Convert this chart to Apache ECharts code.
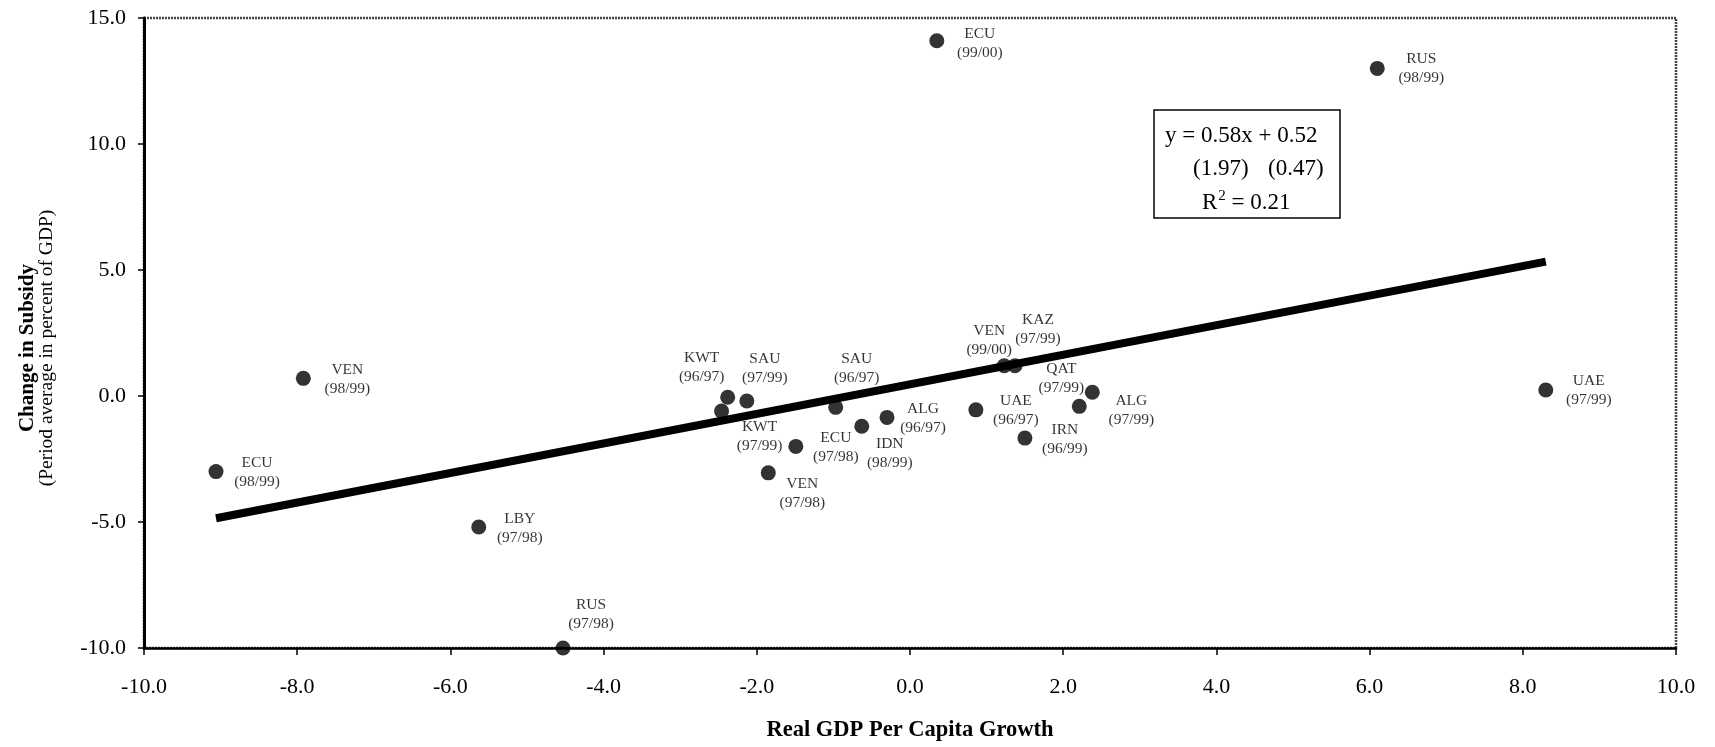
<!DOCTYPE html>
<html>
<head>
<meta charset="utf-8">
<script src="https://cdn.jsdelivr.net/npm/echarts@6/dist/echarts.min.js"></script>
<style>
html,body{margin:0;padding:0;background:#fff;}
#chart{width:1715px;height:747px;}
</style>
</head>
<body>
<div id="chart"></div>
<script>
// ---- data ----
const countries = ['ECU','RUS','VEN','ECU','LBY','RUS','KWT','SAU','KWT','SAU','ECU','IDN','ALG','VEN','VEN','KAZ','UAE','QAT','IRN','ALG','UAE'];
const periods   = ['99/00','98/99','98/99','98/99','97/98','97/98','96/97','97/99','97/99','96/97','97/98','98/99','96/97','97/98','99/00','97/99','96/97','97/99','96/99','97/99','97/99'];
const gdpGrowth = [0.35, 6.1, -7.92, -9.06, -5.63, -4.53, -2.38, -2.13, -2.46, -0.97, -1.49, -0.63, -0.30, -1.85, 1.23, 1.37, 0.86, 2.21, 1.50, 2.38, 8.30];
const subsidyChange = [14.1, 13.0, 0.7, -3.0, -5.2, -10.0, -0.05, -0.2, -0.6, -0.45, -2.0, -1.2, -0.85, -3.05, 1.2, 1.2, -0.55, -0.41, -1.67, 0.15, 0.24];
// fitted line end points as drawn
const fitX = [-9.06, 8.30];
const fitY = [-4.85, 5.33];
const xTicks = {min: -10, max: 10, step: 2};
const yTicks = {min: -10, max: 15, step: 5};
const equationLines = ['y = 0.58x + 0.52', '(1.97)', '(0.47)', 'R', '2', ' = 0.21'];

// label placement (pixel offsets from each marker centre)
const labelOffsets = [[43,3],[44,0],[44,1],[41,1],[41,1],[28,-34],[-26,-30],[18,-33],[38,25],[21,-39],[40,1],[28,27],[36,1],[34,21],[-15,-25],[23,-36],[40,1],[-18,-28],[40,1],[39,18],[43,0]];

const serif = '"Liberation Serif", "Times New Roman", serif';

const points = gdpGrowth.map((x, i) => ({
  value: [x, subsidyChange[i]],
  name: countries[i],
  label: {offset: labelOffsets[i]},
  period: periods[i]
}));

const chart = echarts.init(document.getElementById('chart'));
chart.setOption({
  animation: false,
  backgroundColor: '#fff',
  textStyle: {fontFamily: serif},
  grid: {left: 144, right: 39, top: 18, bottom: 96, show: true, borderColor: '#444', borderWidth: 2.5, borderType: [2, 1]},
  xAxis: {
    type: 'value', min: xTicks.min, max: xTicks.max, interval: xTicks.step,
    axisLine: {onZero: false, lineStyle: {color: '#000', width: 2.5}},
    axisTick: {show: true, inside: false, length: 7, lineStyle: {color: '#000', width: 1.5}},
    axisLabel: {margin: 28, color: '#000', fontSize: 22, fontFamily: serif, formatter: v => v.toFixed(1)},
    splitLine: {show: false},
    name: 'Real GDP Per Capita Growth', nameLocation: 'middle', nameGap: 71,
    nameTextStyle: {fontFamily: serif, fontWeight: 'bold', fontSize: 22.5, color: '#000'}
  },
  yAxis: {
    type: 'value', min: yTicks.min, max: yTicks.max, interval: yTicks.step,
    axisLine: {onZero: false, lineStyle: {color: '#000', width: 3}},
    axisTick: {show: true, inside: false, length: 6, lineStyle: {color: '#000', width: 1.5}},
    axisLabel: {margin: 18, color: '#000', fontSize: 22, fontFamily: serif, formatter: v => v.toFixed(1)},
    splitLine: {show: false},
    name: '{a|Change in Subsidy}\n{b|(Period average in percent of GDP)}',
    nameLocation: 'middle', nameRotate: 90, nameGap: 88,
    nameTextStyle: {
      padding: [0, 30, 0, 0],
      rich: {
        a: {fontFamily: serif, fontWeight: 'bold', fontSize: 21, color: '#000', lineHeight: 19, align: 'center'},
        b: {fontFamily: serif, fontSize: 19.5, color: '#000', lineHeight: 19, align: 'center'}
      }
    }
  },
  series: [
    {
      type: 'line', data: fitX.map((x, i) => [x, fitY[i]]),
      symbol: 'none', lineStyle: {color: '#000', width: 8}, z: 2, silent: true
    },
    {
      type: 'scatter', data: points, symbol: 'circle', symbolSize: 15,
      itemStyle: {color: '#000'}, z: 3,
      label: {
        show: true, position: 'inside', color: '#000', fontFamily: serif, fontSize: 15.5, lineHeight: 19,
        formatter: p => p.name + '\n(' + p.data.period + ')'
      }
    }
  ],
  graphic: [
    {type: 'rect', shape: {x: 1154, y: 110, width: 186, height: 108}, style: {fill: '#fff', stroke: '#000', lineWidth: 1.5}, z: 10},
    {type: 'text', x: 1165, y: 136, style: {text: equationLines[0], font: '23px ' + serif, fill: '#000', verticalAlign: 'middle'}, z: 11},
    {type: 'text', x: 1193, y: 169, style: {text: equationLines[1], font: '23px ' + serif, fill: '#000', verticalAlign: 'middle'}, z: 11},
    {type: 'text', x: 1268, y: 169, style: {text: equationLines[2], font: '23px ' + serif, fill: '#000', verticalAlign: 'middle'}, z: 11},
    {type: 'text', x: 1202, y: 203, style: {
      text: '{a|' + equationLines[3] + '}{s|' + equationLines[4] + '}{a|' + equationLines[5] + '}',
      verticalAlign: 'middle',
      rich: {a: {font: '23px ' + serif, color: '#000'}, s: {font: '15px ' + serif, color: '#000', padding: [0, 0, 14, 1]}}
    }, z: 11}
  ]
});
</script>
</body>
</html>
